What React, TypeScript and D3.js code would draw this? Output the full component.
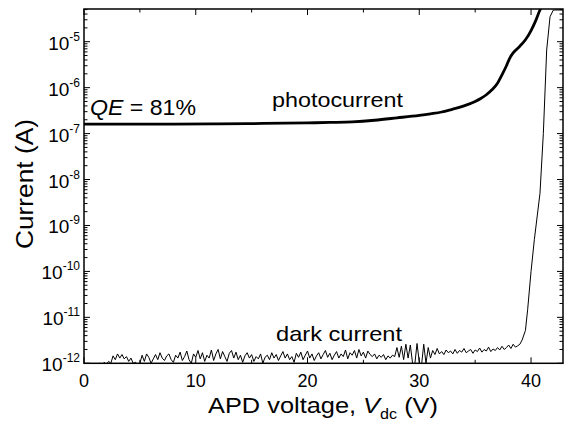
import React from 'react';
import * as d3 from 'd3';

// photocurrent (thick line)
const photoV = [0, 4, 8, 12, 16, 20, 22, 24, 26, 28, 30, 31, 32, 33, 34, 35, 35.5, 36, 36.5, 37, 37.4, 37.8,
  38.1, 38.4, 38.7, 39.0, 39.5, 40.0, 40.4, 40.8, 41.0];
const photoI = [1.6e-7, 1.6e-7, 1.61e-7, 1.63e-7, 1.66e-7, 1.71e-7, 1.75e-7, 1.8e-7, 1.95e-7, 2.2e-7, 2.5e-7,
  2.7e-7, 2.95e-7, 3.4e-7, 4.0e-7, 5.0e-7, 5.8e-7, 7.0e-7, 9.0e-7, 1.25e-6, 1.9e-6, 3.0e-6,
  4.4e-6, 5.7e-6, 6.8e-6, 8.0e-6, 1.1e-5, 1.75e-5, 2.8e-5, 4.9e-5, 6e-5];

// dark current noise floor, in units of 1e-12 A, sampled every 0.2 V from 1.2 V
const darkStartV = 1.2;
const darkStepV = 0.2;
const darkNoise = [
  0.95, 1.0, 0.9, 1.05, 0.95, 1.1, 1.0, 1.45, 1.2, 1.6,
  1.3, 1.55, 1.25, 1.4, 1.1, 1.3, 1.0, 1.05, 0.95, 1.0,
  1.5, 1.1, 1.6, 1.35, 1.0, 1.25, 1.55, 1.2, 1.7, 1.3,
  1.15, 1.45, 1.6, 1.2, 1.05, 1.5, 1.3, 1.75, 1.15, 1.4,
  1.85, 1.2, 1.0, 1.6, 1.35, 1.9, 1.25, 1.7, 1.1, 1.5,
  1.3, 1.95, 1.15, 1.6, 2.0, 1.25, 1.8, 1.4, 1.1, 1.65,
  1.9, 1.3, 1.75, 1.2, 1.5, 1.05, 1.45, 1.7, 1.3, 1.55,
  1.1, 1.4, 1.25, 1.6, 1.0, 1.35, 1.5, 1.2, 1.7, 1.3,
  1.55, 1.15, 1.45, 1.8, 1.3, 1.6, 1.2, 1.4, 1.05, 1.65,
  1.35, 1.75, 1.2, 1.5, 1.85, 1.3, 1.6, 1.15, 1.45, 1.7,
  1.25, 1.55, 1.9, 1.35, 1.65, 1.2, 1.5, 1.8, 1.3, 1.6,
  1.4, 1.95, 1.25, 1.7, 1.5, 1.9, 1.3, 2.0, 1.45, 1.75,
  1.3, 1.85, 1.55, 1.4, 1.6, 1.25, 1.5, 1.35, 1.55, 1.2,
  1.45, 1.3, 1.5, 1.4, 2.2, 1.35, 2.35, 1.2, 2.6, 1.3,
  2.5, 1.0, 0.95, 2.7, 1.05, 0.9, 2.6, 1.0, 2.2, 1.3,
  1.9, 1.55, 2.1, 1.6, 1.8, 1.55, 1.95, 1.7, 1.85, 1.6,
  2.0, 1.65, 1.9, 1.75, 2.1, 1.7, 1.85, 2.0, 1.65, 1.95,
  1.8, 2.15, 1.75, 2.0, 1.85, 2.25, 1.8, 2.05, 1.9, 2.2,
  1.95, 2.35, 2.0, 2.2, 2.5, 2.1, 2.6, 2.25, 2.4,
];
// breakdown part of the dark current
const darkRiseV = [39.0, 39.2, 39.5, 39.7, 40.0, 40.3, 40.8, 41.1, 41.4, 41.7, 42.0, 43.0];
const darkRiseI = [2.6e-12, 3.2e-12, 5.2e-12, 1.5e-11, 1.0e-10, 5e-10, 5e-9, 1e-7, 6.6e-6, 3.5e-5, 4.9e-5, 4.9e-5];

const xTicks = [0, 10, 20, 30, 40];
const xMinor = [5, 15, 25, 35];
const yExps = [-12, -11, -10, -9, -8, -7, -6, -5];

const W = 569;
const H = 426;
const left = 84, right = 563, top = 9, bottom = 363.3;
const font = 'Liberation Sans, Arial, Helvetica, sans-serif';

export default function App() {
  const x = d3.scaleLinear().domain([0, 42.86]).range([left, right]);
  const y = d3.scaleLog().domain([1e-12, 5.15e-5]).range([bottom, top]);

  const photo = photoV.map((v, i) => [v, photoI[i]] as [number, number]);
  const dark = darkNoise.map((n, i) => [darkStartV + i * darkStepV, n * 1e-12] as [number, number])
    .concat(darkRiseV.map((v, i) => [v, darkRiseI[i]] as [number, number]));

  const photoLine = d3.line<[number, number]>().x(d => x(d[0])).y(d => y(d[1])).curve(d3.curveMonotoneX);
  const darkLine = d3.line<[number, number]>().x(d => x(d[0])).y(d => y(d[1]));

  // minor log ticks: 2..9 of every decade inside the domain
  const yMinor: number[] = [];
  for (let e = -12; e <= -5; e++) {
    for (let k = 2; k <= 9; k++) {
      const v = k * Math.pow(10, e);
      if (v <= 5.15e-5) yMinor.push(v);
    }
  }

  const major = 6, minor = 3.5;

  return (
    <svg width={W} height={H} style={{ position: 'absolute', left: 0, top: 0, background: '#fff' }}
      fontFamily={font}>
      <defs>
        <clipPath id="plotClip">
          <rect x={left} y={top} width={right - left} height={bottom - top} />
        </clipPath>
      </defs>

      <g clipPath="url(#plotClip)" fill="none">
        <path d={darkLine(dark) ?? ''} stroke="#000" strokeWidth={1} />
        <path d={photoLine(photo) ?? ''} stroke="#000" strokeWidth={2.8} />
      </g>

      {/* ticks, inward on all four sides */}
      <g stroke="#000" strokeWidth={1}>
        {xTicks.map(t => (
          <g key={'xt' + t}>
            <line x1={x(t)} x2={x(t)} y1={bottom} y2={bottom - major} />
            <line x1={x(t)} x2={x(t)} y1={top} y2={top + major} />
          </g>
        ))}
        {xMinor.map(t => (
          <g key={'xm' + t}>
            <line x1={x(t)} x2={x(t)} y1={bottom} y2={bottom - minor} />
            <line x1={x(t)} x2={x(t)} y1={top} y2={top + minor} />
          </g>
        ))}
        {yExps.map(e => (
          <g key={'yt' + e}>
            <line x1={left} x2={left + major} y1={y(Math.pow(10, e))} y2={y(Math.pow(10, e))} />
            <line x1={right} x2={right - major} y1={y(Math.pow(10, e))} y2={y(Math.pow(10, e))} />
          </g>
        ))}
        {yMinor.map((v, i) => (
          <g key={'ym' + i}>
            <line x1={left} x2={left + minor} y1={y(v)} y2={y(v)} />
            <line x1={right} x2={right - minor} y1={y(v)} y2={y(v)} />
          </g>
        ))}
      </g>

      <rect x={left} y={top} width={right - left} height={bottom - top} fill="none" stroke="#000" strokeWidth={1.5} />

      {/* x tick labels */}
      {xTicks.map(t => (
        <text key={'xl' + t} x={x(t)} y={387} textAnchor="middle" fontSize={18}>{t}</text>
      ))}

      {/* y tick labels */}
      {yExps.map(e => (
        <text key={'yl' + e} x={80} y={y(Math.pow(10, e)) + 8} textAnchor="end" fontSize={19}>
          10<tspan dy={-9} fontSize={12}>{e}</tspan>
        </text>
      ))}

      {/* axis titles */}
      <text x={208} y={413} fontSize={22} textLength={230} lengthAdjust="spacingAndGlyphs">
        APD voltage, <tspan fontStyle="italic">V</tspan><tspan dy={6} fontSize={14}>dc</tspan><tspan dy={-6}> (V)</tspan>
      </text>
      <text transform={`translate(33,${184}) rotate(-90)`} textAnchor="middle" fontSize={23}
        textLength={130} lengthAdjust="spacingAndGlyphs">
        Current (A)
      </text>

      {/* annotations */}
      <text x={90} y={115} fontSize={22} textLength={106} lengthAdjust="spacingAndGlyphs">
        <tspan fontStyle="italic">QE</tspan> = 81%
      </text>
      <text x={272} y={106.7} fontSize={21} textLength={131} lengthAdjust="spacingAndGlyphs">photocurrent</text>
      <text x={276} y={340.7} fontSize={21} textLength={126} lengthAdjust="spacingAndGlyphs">dark current</text>
    </svg>
  );
}
